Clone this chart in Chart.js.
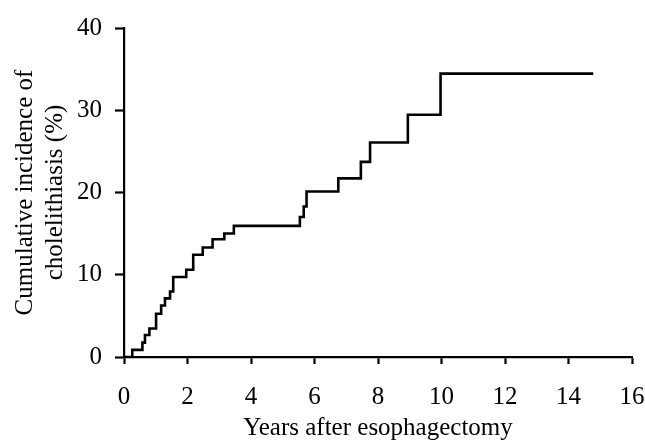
<!DOCTYPE html>
<html>
<head>
<meta charset="utf-8">
<script src="https://cdn.jsdelivr.net/npm/chart.js@4.4.1/dist/chart.umd.min.js"></script>
<style>
  body { margin: 0; background: #fff; }
  #wrap { width: 645px; height: 447px; }
</style>
</head>
<body>
<div id="wrap"><canvas id="kmChart" width="645" height="447"></canvas></div>
<script>
// step times (years) and cumulative incidence (%)
const years = [0, 0.26, 0.58, 0.66, 0.80, 1.01, 1.17, 1.29, 1.45, 1.55, 1.96, 2.18, 2.48, 2.79, 3.16, 3.46,
  5.54, 5.66, 5.75, 6.75, 7.46, 7.75, 8.94, 9.97, 14.78];
const incidence = [0, 0.87, 1.75, 2.67, 3.47, 5.26, 6.26, 7.13, 7.97, 9.73, 10.6, 12.44, 13.31, 14.31, 15.02, 15.94,
  17.02, 18.3, 20.13, 21.72, 23.72, 26.08, 29.46, 34.45, 34.45];

const xTicks = [0, 2, 4, 6, 8, 10, 12, 14, 16];
const yTicks = [0, 10, 20, 30, 40];

const serif = 'Liberation Serif, "Times New Roman", serif';

const points = years.map((x, i) => ({ x: x, y: incidence[i] }));

const ctx = document.getElementById('kmChart').getContext('2d');
new Chart(ctx, {
  type: 'line',
  data: {
    datasets: [{
      data: points,
      stepped: 'before',
      borderColor: '#000',
      borderWidth: 2.6,
      pointRadius: 0,
      fill: false
    }]
  },
  options: {
    responsive: false,
    animation: false,
    layout: { padding: { top: 22, right: 13, left: 0, bottom: 0 } },
    plugins: { legend: { display: false }, tooltip: { enabled: false } },
    scales: {
      x: {
        type: 'linear',
        min: 0,
        max: 16,
        afterFit: s => {
          s.height = 90;
          // tick padding would otherwise widen the side margins
          s.paddingLeft = 6;
          s.paddingRight = 13;
        },
        afterBuildTicks: s => { s.ticks = xTicks.map(v => ({ value: v })); },
        ticks: { color: '#000', padding: 18, font: { family: serif, size: 25 } },
        grid: { drawOnChartArea: false, tickLength: 7, tickColor: '#000', tickWidth: 2.2 },
        border: { color: '#000', width: 2.2 },
        title: {
          display: true,
          text: 'Years after esophagectomy',
          color: '#000',
          padding: { top: 0, bottom: 4 },
          font: { family: serif, size: 25 }
        }
      },
      y: {
        min: 0,
        max: 40,
        afterFit: s => { s.width = 124; },
        afterBuildTicks: s => { s.ticks = yTicks.map(v => ({ value: v })); },
        ticks: { color: '#000', padding: 13, font: { family: serif, size: 25 } },
        grid: { drawOnChartArea: false, tickLength: 9, tickColor: '#000', tickWidth: 2.2 },
        border: { color: '#000', width: 2.2 },
        title: {
          display: true,
          text: ['Cumulative incidence of', 'cholelithiasis (%)'],
          color: '#000',
          padding: { top: 10, bottom: 0 },
          font: { family: serif, size: 25, lineHeight: 1.2 }
        }
      }
    }
  }
});
</script>
</body>
</html>
